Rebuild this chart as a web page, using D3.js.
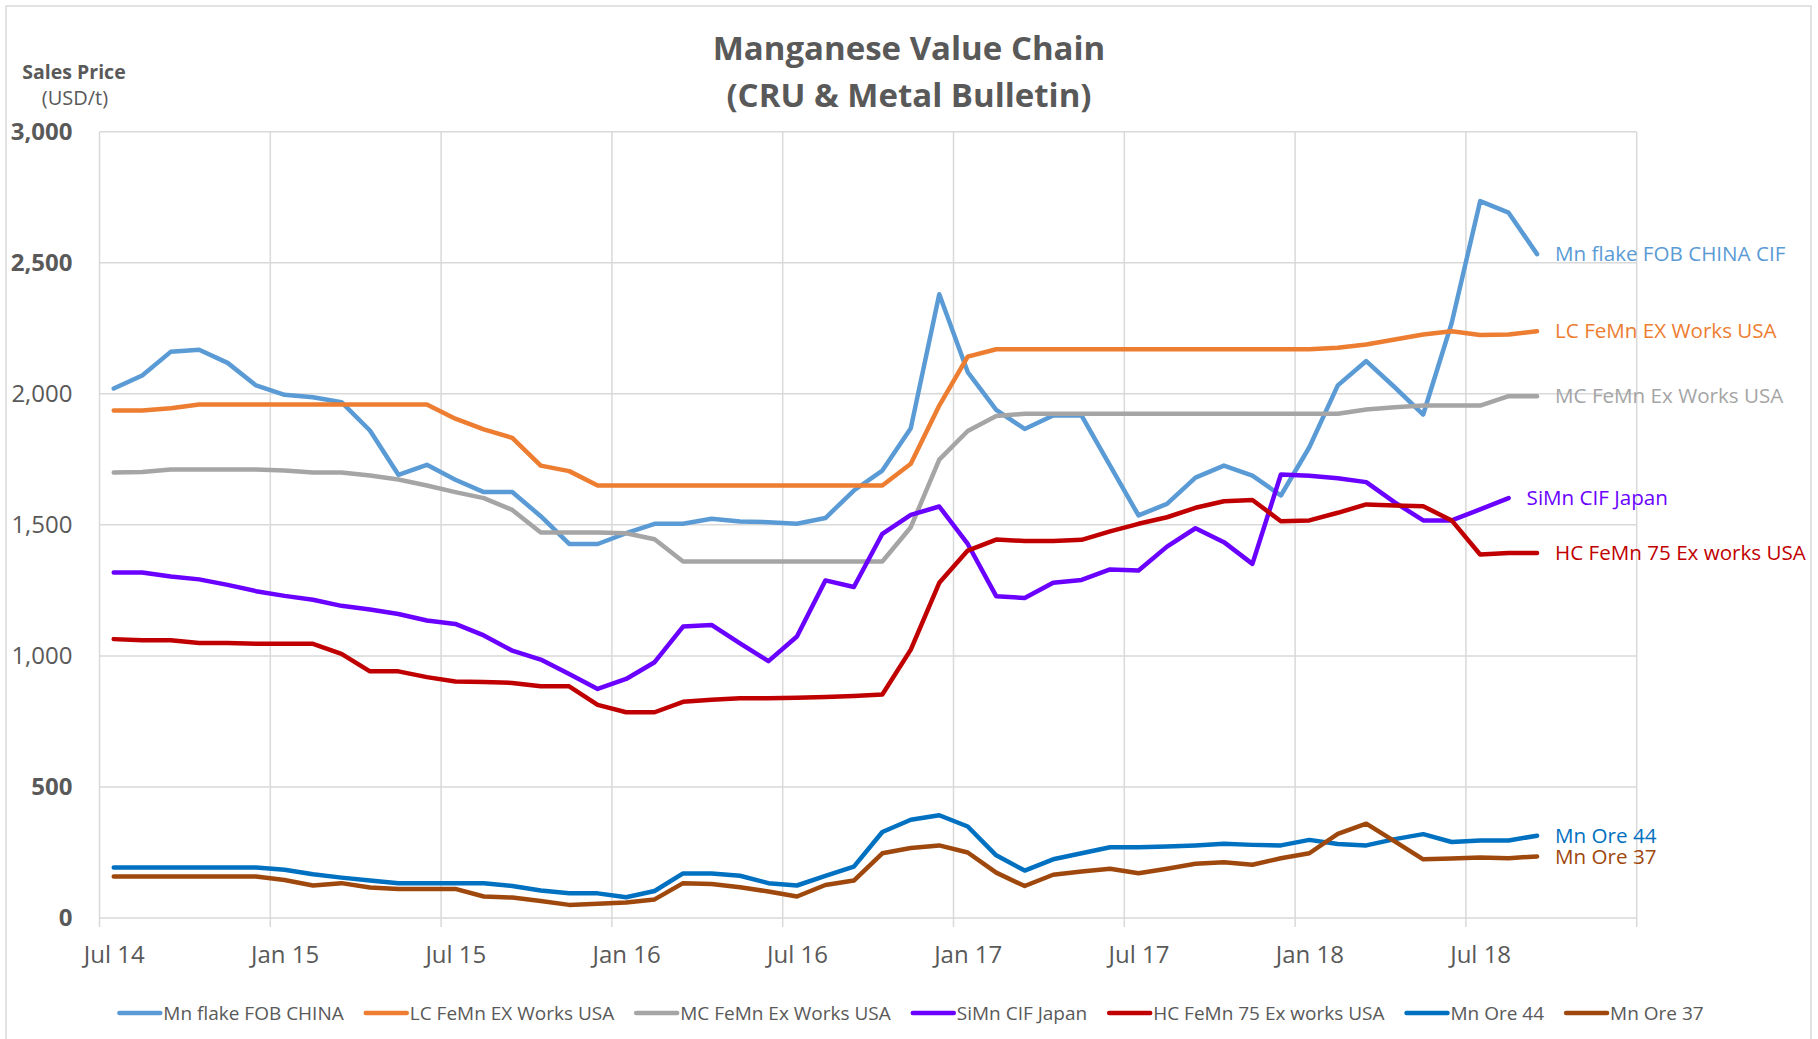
<!DOCTYPE html>
<html>
<head>
<meta charset="utf-8">
<script src="https://cdn.jsdelivr.net/npm/d3@7"></script>
<style>
body{margin:0;background:#fff;}
svg{display:block;font-family:"Open Sans",sans-serif;}
</style>
</head>
<body>
<svg id="chart" width="1818" height="1039"></svg>
<script>
// monthly categories (one point per month)
var months=["Jul 14","Aug 14","Sep 14","Oct 14","Nov 14","Dec 14",
"Jan 15","Feb 15","Mar 15","Apr 15","May 15","Jun 15","Jul 15","Aug 15","Sep 15","Oct 15","Nov 15","Dec 15",
"Jan 16","Feb 16","Mar 16","Apr 16","May 16","Jun 16","Jul 16","Aug 16","Sep 16","Oct 16","Nov 16","Dec 16",
"Jan 17","Feb 17","Mar 17","Apr 17","May 17","Jun 17","Jul 17","Aug 17","Sep 17","Oct 17","Nov 17","Dec 17",
"Jan 18","Feb 18","Mar 18","Apr 18","May 18","Jun 18","Jul 18","Aug 18","Sep 18"];
var tickLabels=["Jul 14","Jan 15","Jul 15","Jan 16","Jul 16","Jan 17","Jul 17","Jan 18","Jul 18"];
var yTicks=[0,500,1000,1500,2000,2500,3000];
var boldTicks=[0,500,2500,3000];

var seriesNames=["Mn flake FOB CHINA","LC FeMn EX Works USA","MC FeMn Ex Works USA","SiMn CIF Japan","HC FeMn 75 Ex works USA","Mn Ore 44","Mn Ore 37"];
var endLabels=["Mn flake FOB CHINA CIF","LC FeMn EX Works USA","MC FeMn Ex Works USA","SiMn CIF Japan","HC FeMn 75 Ex works USA","Mn Ore 44","Mn Ore 37"];
var colors=["#5B9BD5","#ED7D31","#A5A5A5","#6A00FF","#C00000","#0070C0","#9E480E"];

var mnFlake=[2020,2070,2160,2168,2118,2032,1996,1987,1968,1860,
1691,1729,1672,1625,1625,1533,1427,1427,1468,1504,
1504,1523,1513,1510,1504,1526,1631,1707,1869,2380,
2083,1939,1866,1917,1917,1726,1536,1580,1680,1726,
1688,1612,1796,2032,2125,2025,1921,2270,2735,2691,2533];
var lcFeMn=[1936,1936,1945,1959,1959,1959,1959,1959,1959,1959,
1959,1959,1905,1864,1832,1726,1705,1650,1650,1650,
1650,1650,1650,1650,1650,1650,1650,1650,1733,1955,
2142,2170,2170,2170,2170,2170,2170,2170,2170,2170,
2170,2170,2170,2176,2188,2207,2226,2239,2224,2226,2239];
var mcFeMn=[1700,1702,1711,1711,1711,1711,1707,1700,1700,1688,
1673,1650,1625,1602,1557,1471,1471,1471,1468,1445,
1360,1360,1360,1360,1360,1360,1360,1360,1491,1749,
1858,1915,1924,1924,1924,1924,1924,1924,1924,1924,
1924,1924,1924,1924,1940,1949,1955,1955,1955,1991,1991];
var siMn=[1318,1318,1303,1292,1271,1247,1229,1214,1191,1177,
1160,1135,1122,1078,1020,986,931,874,912,976,
1112,1118,1048,980,1074,1288,1263,1466,1538,1570,
1427,1228,1221,1279,1290,1330,1326,1417,1487,1434,
1351,1692,1687,1678,1663,1586,1517,1517,1559,1602,null];
var hcFeMn=[1064,1060,1060,1049,1049,1046,1046,1046,1008,941,
941,919,902,900,897,884,884,813,785,785,
825,833,838,838,840,843,847,853,1024,1279,
1402,1444,1438,1438,1443,1475,1504,1529,1565,1590,
1595,1514,1517,1546,1578,1574,1571,1517,1387,1393,1393];
var ore44=[193,193,193,193,193,193,184,167,154,143,
133,133,133,133,122,105,94,94,79,103,
170,170,161,133,124,161,196,328,375,392,
349,239,181,224,247,270,270,273,277,283,
279,277,298,282,277,301,320,290,296,296,314];
var ore37=[158,158,158,158,158,158,145,124,133,116,
111,111,111,82,78,65,50,54,59,71,
133,130,117,101,82,126,143,247,267,277,
250,173,122,165,177,188,171,188,207,213,
203,228,247,321,360,292,224,227,231,228,235];
var allSeries=[mnFlake,lcFeMn,mcFeMn,siMn,hcFeMn,ore44,ore37];

var svg=d3.select("#chart");
var textGrey="#595959";
var gridColor="#D9D9D9";

// chart frame
svg.append("rect").attr("x",6).attr("y",6).attr("width",1805).attr("height",1045)
    .attr("fill","#fff").attr("stroke",gridColor).attr("stroke-width",1.5);

// axis extends three empty months past the last point (to Jan 19)
var x=d3.scaleLinear().domain([0,months.length+3]).range([99.5,1636.7]);
var y=d3.scaleLinear().domain([0,3000]).range([918,131.7]);

var grid=svg.append("g");
grid.selectAll("line.h").data(yTicks).enter().append("line")
    .attr("x1",x(0)).attr("x2",x(months.length+3))
    .attr("y1",function(d){return y(d);}).attr("y2",function(d){return y(d);})
    .attr("stroke",gridColor).attr("stroke-width",1.5);
var vIdx=d3.range(0,months.length+4,6);
grid.selectAll("line.v").data(vIdx).enter().append("line")
    .attr("x1",function(d){return x(d);}).attr("x2",function(d){return x(d);})
    .attr("y1",y(3000)).attr("y2",y(0)+9)
    .attr("stroke",gridColor).attr("stroke-width",1.5);

// y axis labels
var yAxis=svg.append("g").attr("transform","translate("+x(0)+",0)")
    .call(d3.axisLeft(y).tickValues(yTicks).tickFormat(d3.format(",")).tickSize(0).tickPadding(27));
yAxis.select(".domain").remove();
yAxis.selectAll("text").attr("fill",textGrey).style("font-size","24px")
    .style("font-family","'Open Sans',sans-serif")
    .style("font-weight",function(d){return boldTicks.indexOf(d)>=0?"bold":"normal";});

// x axis labels, centred in the month slot
var tickIdx=tickLabels.map(function(d){return months.indexOf(d)+0.5;});
var xAxis=svg.append("g").attr("transform","translate(0,"+y(0)+")")
    .call(d3.axisBottom(x).tickValues(tickIdx).tickFormat(function(d,i){return tickLabels[i];}).tickSize(0).tickPadding(28));
xAxis.select(".domain").remove();
xAxis.selectAll("text").attr("fill",textGrey).style("font-size","24px").style("font-family","'Open Sans',sans-serif");

// title
svg.append("text").attr("x",909).attr("y",60).attr("text-anchor","middle")
    .attr("fill",textGrey).style("font-size","33px").style("font-weight","bold").text("Manganese Value Chain");
svg.append("text").attr("x",909).attr("y",107).attr("text-anchor","middle")
    .attr("fill",textGrey).style("font-size","33px").style("font-weight","bold").text("(CRU & Metal Bulletin)");
svg.append("text").attr("x",74).attr("y",79).attr("text-anchor","middle")
    .attr("fill",textGrey).style("font-size","19.5px").style("font-weight","bold").text("Sales Price");
svg.append("text").attr("x",75).attr("y",105).attr("text-anchor","middle")
    .attr("fill",textGrey).style("font-size","20px").text("(USD/t)");

// series lines
var line=d3.line()
    .defined(function(d){return d!=null;})
    .x(function(d,i){return x(i+0.5);})
    .y(function(d){return y(d);});
var lines=svg.append("g");
allSeries.forEach(function(s,k){
    lines.append("path").datum(s)
        .attr("d",line)
        .attr("fill","none")
        .attr("stroke",colors[k])
        .attr("stroke-width",4.5)
        .attr("stroke-linejoin","round")
        .attr("stroke-linecap","round");
    // label at the last point
    var last=s.length-1;
    while(s[last]==null) last--;
    svg.append("text")
        .attr("x",x(last+0.5)+18)
        .attr("y",y(s[last]))
        .attr("dy","0.35em")
        .attr("fill",colors[k])
        .style("font-size","20.6px")
        .text(endLabels[k]);
});

// legend
var legend=svg.append("g");
var lx=0;
seriesNames.forEach(function(name,k){
    var g=legend.append("g").attr("transform","translate("+lx+",0)");
    g.append("line").attr("x1",0).attr("x2",41).attr("y1",0).attr("y2",0)
        .attr("stroke",colors[k]).attr("stroke-width",4.5).attr("stroke-linecap","round");
    var t=g.append("text").attr("x",44).attr("dy","0.35em")
        .attr("fill",textGrey).style("font-size","19px").text(name);
    lx+=44+t.node().getComputedTextLength()+22;
});
lx-=22;
legend.attr("transform","translate("+(911.5-lx/2)+",1013)");
</script>
</body>
</html>
